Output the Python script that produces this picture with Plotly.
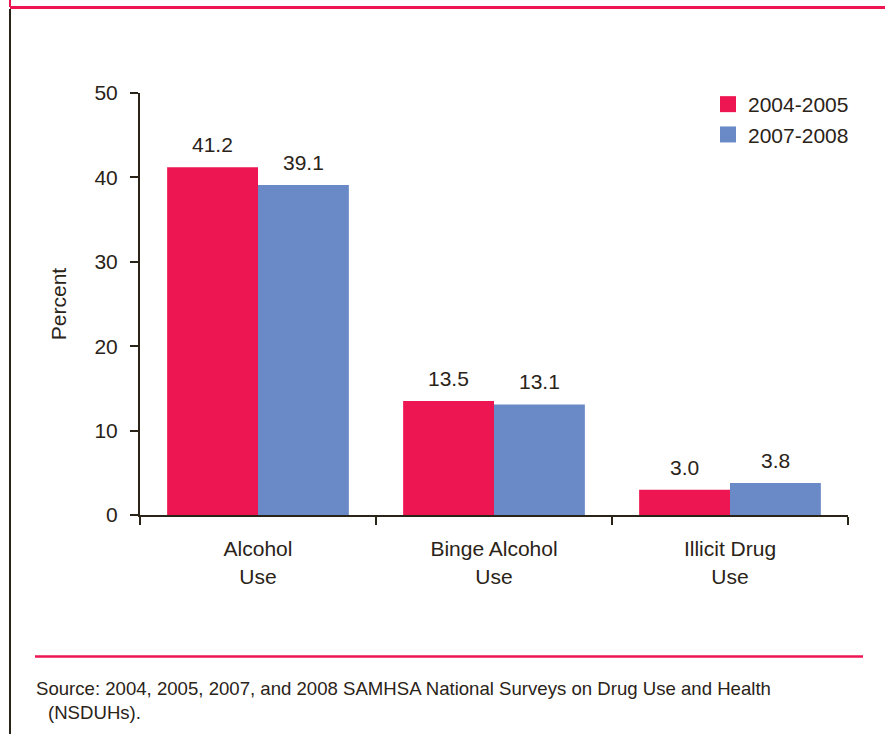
import plotly.graph_objects as go

categories = ["Alcohol<br>Use", "Binge Alcohol<br>Use", "Illicit Drug<br>Use"]
series_names = ["2004-2005", "2007-2008"]
values_2004_2005 = [41.2, 13.5, 3.0]
values_2007_2008 = [39.1, 13.1, 3.8]
y_ticks = [0, 10, 20, 30, 40, 50]

RED = "#EE1652"
BLUE = "#6A8AC7"
TXT = "#2A2318"
FONT = "Liberation Sans, Arial, sans-serif"
FS = 21

W, H = 885, 734
L, R, T, B = 140, 37, 93, 219
PW, PH = W - L - R, H - T - B


def px(x):
    return (x - L) / PW


def py(y):
    return (H - B - y) / PH


fig = go.Figure()
for name, vals, col in [(series_names[0], values_2004_2005, RED),
                        (series_names[1], values_2007_2008, BLUE)]:
    fig.add_trace(go.Bar(x=categories, y=vals, name=name, marker_color=col,
                         marker_line_width=0, showlegend=False))
    fig.add_trace(go.Scatter(x=[None], y=[None], mode="markers", name=name,
                             marker=dict(symbol="square", size=18, color=col)))

bar_px = PW / 3 * (1 - 0.23) / 2
annotations = []
for vals, sign in [(values_2004_2005, -1), (values_2007_2008, 1)]:
    for c, v in zip(categories, vals):
        annotations.append(dict(x=c, y=v, xref="x", yref="y", text=f"{v:.1f}",
                                showarrow=False, xshift=sign * bar_px / 2,
                                yshift=9, yanchor="bottom",
                                font=dict(size=FS, color=TXT, family=FONT)))

annotations.append(dict(
    x=px(34), y=py(688), xref="paper", yref="paper", xanchor="left", yanchor="middle",
    text="Source: 2004, 2005, 2007, and 2008 SAMHSA National Surveys on Drug Use and Health",
    showarrow=False, font=dict(size=18.6, color=TXT, family=FONT)))
annotations.append(dict(
    x=px(46), y=py(712), xref="paper", yref="paper", xanchor="left", yanchor="middle",
    text="(NSDUHs).", showarrow=False, font=dict(size=18.6, color=TXT, family=FONT)))

shapes = [
    dict(type="line", xref="paper", yref="paper", x0=px(10), x1=px(W + 5),
         y0=py(7.5), y1=py(7.5), line=dict(color=RED, width=3)),
    dict(type="line", xref="paper", yref="paper", x0=px(10), x1=px(10),
         y0=py(-5), y1=py(7), line=dict(color=RED, width=2)),
    dict(type="line", xref="paper", yref="paper", x0=px(10), x1=px(10),
         y0=py(9), y1=py(H + 5), line=dict(color=TXT, width=2)),
    dict(type="line", xref="paper", yref="paper", x0=px(35), x1=px(863),
         y0=py(656.5), y1=py(656.5), line=dict(color=RED, width=2.5)),
]

fig.update_layout(
    width=W, height=H,
    margin=dict(l=L, r=R, t=T, b=B, pad=0),
    paper_bgcolor="white", plot_bgcolor="white",
    barmode="group", bargap=0.23, bargroupgap=0,
    font=dict(family=FONT, size=FS, color=TXT),
    showlegend=True,
    legend=dict(x=1 + 6 / PW, xanchor="right", y=1 + 9 / PH, yanchor="top",
                font=dict(size=FS, color=TXT, family=FONT),
                bgcolor="rgba(0,0,0,0)", tracegroupgap=0, itemsizing="trace"),
    annotations=annotations,
    shapes=shapes,
    xaxis=dict(type="category", tickson="boundaries", range=[-0.5, 2.5],
               showline=True, linecolor=TXT, linewidth=2,
               ticks="outside", ticklen=8, tickwidth=2, tickcolor=TXT,
               tickfont=dict(size=FS, color=TXT, family=FONT),
               ticklabelstandoff=14, showgrid=False, zeroline=False),
    yaxis=dict(range=[0, 50], tickvals=y_ticks, showline=True, linecolor=TXT,
               linewidth=2, ticks="outside", ticklen=8, tickwidth=2, tickcolor=TXT,
               tickfont=dict(size=FS, color=TXT, family=FONT),
               ticklabelstandoff=8,
               showgrid=False, zeroline=False,
               title=dict(text="Percent", standoff=22,
                          font=dict(size=FS, color=TXT, family=FONT))),
)

fig.write_html("out.html", config={"displayModeBar": False},
               post_script="document.body.style.margin='0px';")
